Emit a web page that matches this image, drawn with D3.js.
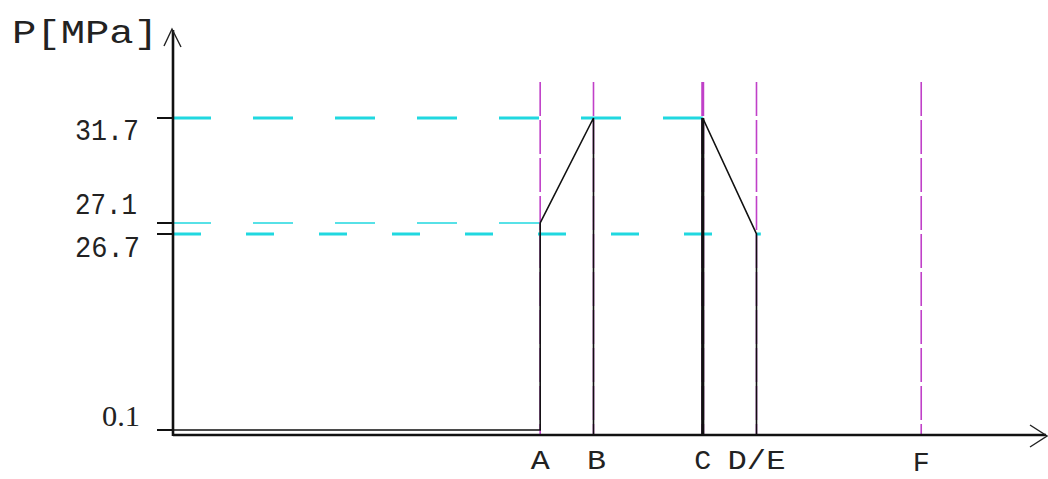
<!DOCTYPE html>
<html>
<head>
<meta charset="utf-8">
<script src="https://cdn.jsdelivr.net/npm/d3@7"></script>
<style>
  body { margin: 0; background: #fff; }
  text { font-family: "Liberation Mono", monospace; fill: #222; }
</style>
</head>
<body>
<div id="chart"></div>
<script>
// pressure levels shown on the y axis (MPa)
const pLevels = [31.7, 27.1, 26.7, 0.1];
// event points along the time axis
const events = ["A", "B", "C", "D/E", "F"];
const eventT = [42.35, 48.5, 61.1, 67.3, 86.3];
// pressure trace, two pieces
const trace1 = [[0, 0.1], [42.35, 0.1], [42.35, 27.1], [48.5, 31.7], [48.5, 0]];
const trace2 = [[61.1, 0], [61.1, 31.7], [67.3, 26.7], [67.3, 0]];
// how far each cyan guide line runs
const guideEnd = [61.1, 42.35, 67.8];

const width = 1048, height = 479;
const svg = d3.select("#chart").append("svg")
    .attr("width", width).attr("height", height);

const x = d3.scaleLinear().domain([0, 100]).range([173, 1040]);
// schematic, not to scale: piecewise mapping
const y = d3.scaleLinear().domain([0, 0.1, 26.7, 27.1, 31.7]).range([435, 430, 234, 223, 118]);

// magenta event lines
svg.selectAll(".ev")
    .data(eventT)
    .enter().append("line")
    .attr("x1", d => x(d)).attr("x2", d => x(d))
    .attr("y1", 82).attr("y2", y(0))
    .attr("stroke", "#c040c8")
    .attr("stroke-width", (d, i) => i === 2 ? 3 : 1.6)
    .attr("stroke-dasharray", "34,4");

// cyan guide lines
svg.selectAll(".guide")
    .data(pLevels.slice(0, 3))
    .enter().append("line")
    .attr("x1", x(0)).attr("x2", (d, i) => x(guideEnd[i]))
    .attr("y1", d => y(d)).attr("y2", d => y(d))
    .attr("stroke", "#20d8e0")
    .attr("stroke-width", (d, i) => i === 1 ? 1.5 : 3)
    .attr("stroke-dasharray", (d, i) => i === 2 ? "28,45" : "40,42")
    .attr("stroke-dashoffset", (d, i) => i === 2 ? 0 : 2);

const line = d3.line().x(d => x(d[0])).y(d => y(d[1]));

svg.append("path").attr("d", line(trace1))
    .attr("fill", "none").attr("stroke", "#111").attr("stroke-width", 1.6);
svg.append("path").attr("d", line(trace2))
    .attr("fill", "none").attr("stroke", "#111").attr("stroke-width", 1.6);
// thick rising edge at C
svg.append("line")
    .attr("x1", x(trace2[0][0])).attr("x2", x(trace2[1][0]))
    .attr("y1", y(0)).attr("y2", y(31.7))
    .attr("stroke", "#111").attr("stroke-width", 3.2);

// axes
svg.append("line").attr("x1", x(0)).attr("x2", 1046).attr("y1", y(0)).attr("y2", y(0))
    .attr("stroke", "#111").attr("stroke-width", 2.6);
svg.append("line").attr("x1", x(0)).attr("x2", x(0)).attr("y1", 30).attr("y2", y(0) + 1)
    .attr("stroke", "#111").attr("stroke-width", 2.6);
// arrow heads
svg.append("path").attr("d", "M164,46 L172,29 L181,47")
    .attr("fill", "none").attr("stroke", "#222").attr("stroke-width", 1.4);
svg.append("path").attr("d", "M1030,425 L1047,436 L1030,447")
    .attr("fill", "none").attr("stroke", "#222").attr("stroke-width", 1.4);

// y ticks
svg.selectAll(".tick")
    .data(pLevels)
    .enter().append("line")
    .attr("x1", 157).attr("x2", x(0))
    .attr("y1", d => y(d)).attr("y2", d => y(d))
    .attr("stroke", "#111").attr("stroke-width", 2);

const labelDy = [22, -9, 23, -4];
const labelW = [64, 62, 65, 38];
svg.selectAll(".ylab")
    .data(pLevels)
    .enter().append("text")
    .attr("x", (d, i) => i === 3 ? 102 : 75)
    .attr("y", (d, i) => y(d) + labelDy[i])
    .attr("font-size", 30)
    .style("font-family", (d, i) => i === 3 ? "'Liberation Serif', serif" : null)
    .attr("textLength", (d, i) => labelW[i])
    .attr("lengthAdjust", "spacingAndGlyphs")
    .text(d => d);

svg.append("text").attr("x", 12).attr("y", 43)
    .attr("font-size", 33)
    .attr("textLength", 146)
    .attr("lengthAdjust", "spacingAndGlyphs")
    .text("P[MPa]");

// x labels
const xLabW = [19, 19, 17, 58, 17];
svg.selectAll(".xlab")
    .data(events)
    .enter().append("text")
    .attr("x", (d, i) => x(eventT[i]) + (i === 1 ? 3 : 0) - xLabW[i] / 2)
    .attr("y", (d, i) => i === 4 ? 471 : 469)
    .attr("font-size", 28)
    .attr("textLength", (d, i) => xLabW[i])
    .attr("lengthAdjust", "spacingAndGlyphs")
    .text(d => d);
</script>
</body>
</html>
